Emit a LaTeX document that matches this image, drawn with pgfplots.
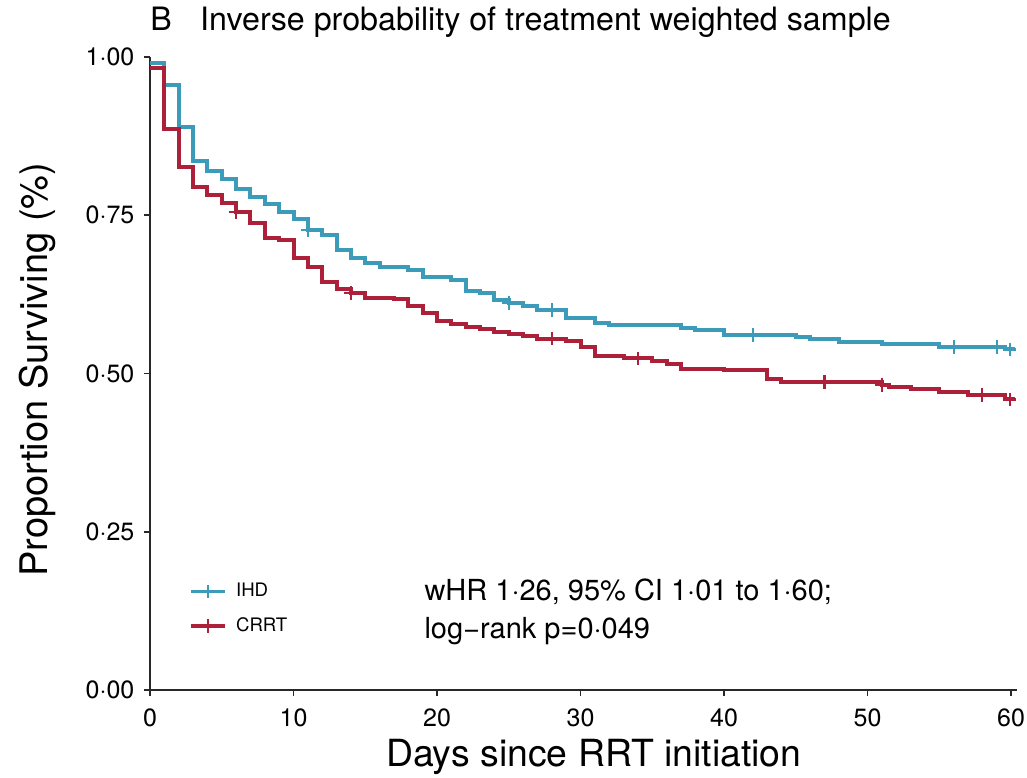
\documentclass[border=0pt]{standalone}
\usepackage{fontspec}
\setmainfont{TeX Gyre Heros}
\usepackage{pgfplots}
\pgfplotsset{compat=1.18}
\definecolor{ihd}{RGB}{60,155,185}
\definecolor{crrt}{RGB}{172,32,58}
\definecolor{axisgray}{RGB}{40,40,40}

% Weighted Kaplan-Meier estimates: time (days), survival after the step
\pgfplotstableread{
t s
0 0.991
1 0.956
2 0.890
3 0.835
4 0.820
5 0.807
6 0.792
7 0.779
8 0.768
9 0.755
10 0.744
11 0.727
12 0.719
13 0.695
14 0.682
15 0.674
16 0.669
18 0.664
19 0.653
21 0.647
22 0.631
23 0.627
24 0.616
25 0.611
26 0.607
27 0.600
29 0.587
31 0.580
32 0.576
37 0.572
38 0.569
40 0.561
45 0.557
46 0.554
48 0.550
51 0.547
55 0.542
59.6 0.538
60.3 0.538
}\ihdkm
\pgfplotstableread{
t s
0 0.982
1 0.887
2 0.826
3 0.794
4 0.782
5 0.769
6 0.755
7 0.737
8 0.714
9 0.711
10 0.682
11 0.669
12 0.645
13 0.634
14 0.627
15 0.620
17 0.617
18 0.607
19 0.595
20 0.583
21 0.578
22 0.573
23 0.570
24 0.566
25 0.562
26 0.559
27 0.555
29 0.551
30 0.542
31 0.528
33 0.524
35 0.520
36 0.515
37 0.507
40 0.505
43 0.492
44 0.487
51 0.482
51.5 0.479
53 0.476
55 0.471
57 0.466
59.6 0.459
60.3 0.459
}\crrtkm
% Censoring times
\pgfplotstableread{
t s
11 0.727
25 0.611
28 0.600
42 0.561
56 0.542
59 0.542
59.9 0.538
}\ihdcens
\pgfplotstableread{
t s
6 0.755
14 0.627
28 0.555
34 0.524
47 0.487
51 0.482
58 0.466
59.9 0.459
}\crrtcens

\begin{document}
\begin{tikzpicture}[x=1pt,y=1pt]
\useasboundingbox (-75,-43.5) rectangle (438.5,345);
\begin{axis}[
  at={(0,0)}, anchor=south west, scale only axis,
  width=433.4pt, height=316.5pt,
  xmin=0, xmax=60.4, ymin=0, ymax=1,
  axis x line=bottom, axis y line=left,
  axis line style={-, line width=0.9pt, color=axisgray},
  tick align=outside, major tick length=2.8pt,
  tick style={line width=0.8pt, color=axisgray},
  xtick={0,10,20,30,40,50,60},
  ytick={0,0.25,0.5,0.75,1},
  yticklabels={0·00,0·25,0·50,0·75,1·00},
  /pgf/number format/assume math mode=true,
  xticklabel style={font=\fontsize{12.5}{14}\selectfont, yshift=-3pt},
  yticklabel style={font=\fontsize{12.5}{14}\selectfont, xshift=-1.5pt},
  xlabel={Days since RRT initiation},
  ylabel={Proportion Surviving (\%)},
  every axis x label/.style={at={(axis description cs:0.512,-0.106)}, anchor=center, font=\fontsize{18.7}{22}\selectfont},
  every axis y label/.style={at={(axis description cs:-0.1304,0.506)}, rotate=90, anchor=center, font=\fontsize{19}{22}\selectfont},
  legend style={at={(axis cs:2.7,0.128)}, anchor=west, draw=none, fill=none,
    font=\fontsize{9.3}{11}\selectfont, row sep=5pt, column sep=2.5pt, inner sep=0pt,
    nodes={inner sep=2pt}},
  legend cell align=left,
  clip=false,
]
\addlegendimage{ihd, line width=1.9pt, mark=+, mark size=3.4pt, mark options={line width=1.1pt}}
\addlegendentry{IHD}
\addlegendimage{crrt, line width=1.9pt, mark=+, mark size=3.4pt, mark options={line width=1.1pt}}
\addlegendentry{CRRT}

\addplot[ihd, line width=2pt, const plot, forget plot] table[x=t, y=s] {\ihdkm};
\addplot[crrt, line width=2pt, const plot, forget plot] table[x=t, y=s] {\crrtkm};
\addplot[ihd, only marks, mark=+, mark size=3.4pt, mark options={line width=1.1pt}, forget plot] table[x=t, y=s] {\ihdcens};
\addplot[crrt, only marks, mark=+, mark size=3.4pt, mark options={line width=1.1pt}, forget plot] table[x=t, y=s] {\crrtcens};

\node[anchor=west, inner sep=0pt, font=\fontsize{14.5}{17}\selectfont] at (axis cs:19.1,0.155) {wHR 1·26, 95\% CI 1·01 to 1·60;};
\node[anchor=west, inner sep=0pt, font=\fontsize{14.5}{17}\selectfont] at (axis cs:19.1,0.093) {log−rank p=0·049};
\node[anchor=west, inner sep=0pt, font=\fontsize{16.1}{19}\selectfont] at (axis description cs:0,1.0553) {B\hspace{14.2pt}Inverse probability of treatment weighted sample};
\end{axis}
\end{tikzpicture}
\end{document}
